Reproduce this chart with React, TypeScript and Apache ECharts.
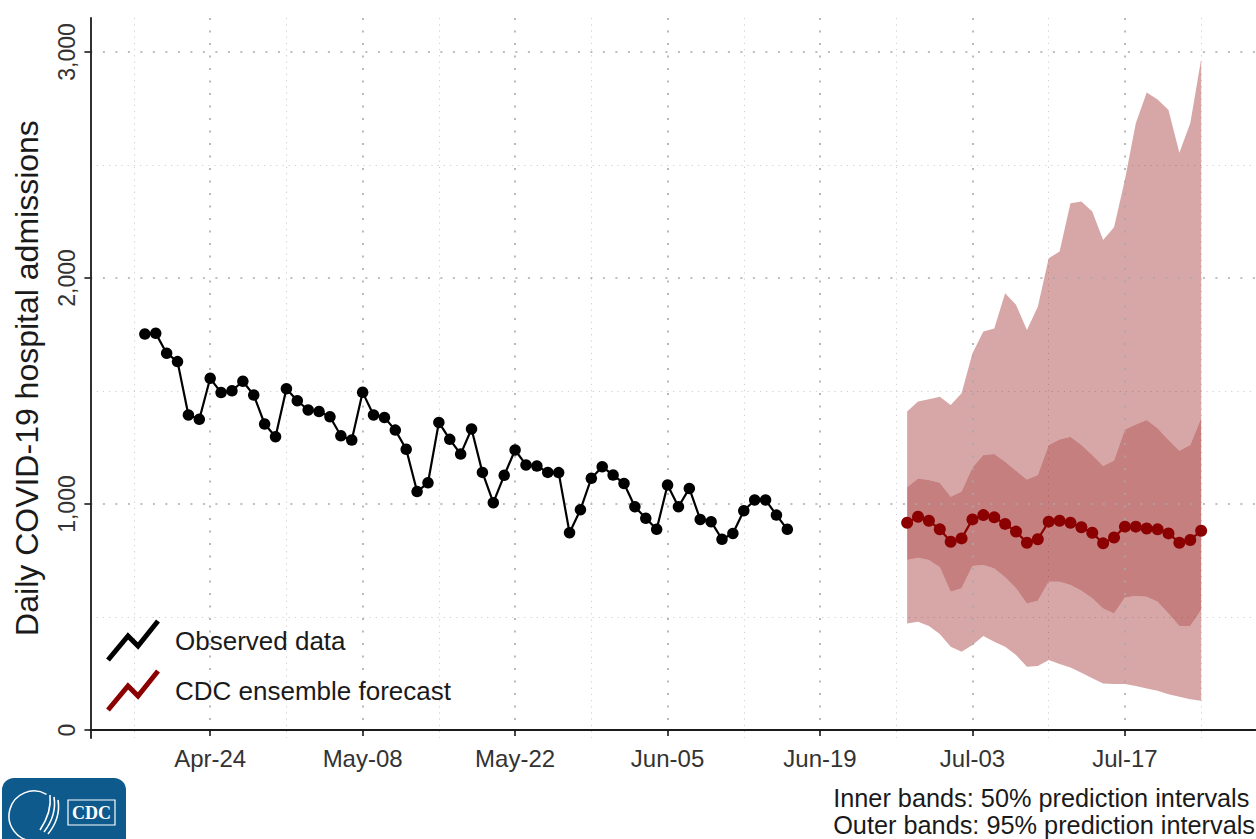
import React, { useEffect, useRef } from 'react';
import * as echarts from 'echarts';

// ---------- data ----------
const MONTHS = ['Jan', 'Feb', 'Mar', 'Apr', 'May', 'Jun', 'Jul', 'Aug', 'Sep', 'Oct', 'Nov', 'Dec'];
const AXIS_FIRST_DAY = Date.UTC(2022, 3, 13);
const AXIS_DAY_COUNT = 108;
const categories: string[] = Array.from({ length: AXIS_DAY_COUNT }, (_, i) => {
  const d = new Date(AXIS_FIRST_DAY + i * 86400000);
  return MONTHS[d.getUTCMonth()] + '-' + String(d.getUTCDate()).padStart(2, '0');
});

const tickLabels = ['Apr-24', 'May-08', 'May-22', 'Jun-05', 'Jun-19', 'Jul-03', 'Jul-17'];
const minorGridLabels = ['Apr-17', 'May-01', 'May-15', 'May-29', 'Jun-12', 'Jun-26', 'Jul-10', 'Jul-24'];
const yTickValues = [0, 1000, 2000, 3000];
const yMinorValues = [500, 1500, 2500];
const footnoteLines = ['Inner bands: 50% prediction intervals', 'Outer bands: 95% prediction intervals'];

const observedStart = 'Apr-18';
const observed = [
  1752, 1755, 1667, 1630, 1394, 1375, 1556, 1493, 1501, 1543,
  1482, 1354, 1298, 1510, 1457, 1416, 1409, 1386, 1302, 1283,
  1494, 1394, 1383, 1327, 1242, 1055, 1094, 1361, 1286, 1221,
  1332, 1140, 1006, 1127, 1239, 1173, 1168, 1140, 1139, 873,
  975, 1114, 1165, 1128, 1091, 988, 937, 888, 1084, 988,
  1069, 932, 922, 844, 870, 970, 1018, 1018, 951, 888,
];

const forecastStart = 'Jun-27';
const forecastMedian = [
  917, 944, 926, 888, 833, 848, 932, 951, 941, 912,
  878, 829, 844, 922, 926, 917, 897, 873, 826, 852,
  900, 900, 892, 888, 870, 829, 841, 882,
];
const upper50 = [
  1074, 1113, 1106, 1094, 1032, 1055, 1162, 1217, 1221, 1187,
  1147, 1109, 1128, 1261, 1286, 1298, 1261, 1217, 1168, 1192,
  1330, 1352, 1372, 1335, 1283, 1236, 1261, 1379,
];
const lower50 = [
  752, 762, 752, 720, 612, 627, 726, 730, 715, 676,
  627, 560, 572, 656, 656, 642, 616, 583, 538, 516,
  587, 593, 590, 568, 516, 460, 460, 531,
];
const lower95 = [
  472, 479, 460, 425, 369, 346, 376, 416, 391, 369,
  332, 280, 283, 310, 292, 277, 254, 229, 206, 204,
  204, 195, 184, 174, 159, 147, 136, 130,
];
const upper95 = [
  1409, 1453, 1463, 1475, 1438, 1490, 1667, 1763, 1777, 1932,
  1881, 1770, 1873, 2087, 2117, 2330, 2338, 2294, 2168, 2224,
  2434, 2684, 2820, 2790, 2743, 2554, 2684, 2968,
];

// ---------- helpers ----------
function place(values: number[], startLabel: string): (number | string)[] {
  const start = categories.indexOf(startLabel);
  return categories.map((_, i) => {
    const k = i - start;
    return k >= 0 && k < values.length ? values[k] : '-';
  });
}
function diff(a: number[], b: number[]): number[] {
  return a.map((v, i) => v - b[i]);
}

const FONT = "'Liberation Sans', Arial, Helvetica, sans-serif";
const DARKRED = '#8b0000';
const OUTER = 'rgba(139,0,0,0.35)';
const INNER = 'rgba(139,0,0,0.5)';
const MAJOR_GRID = { type: [2, 10.5] as any, color: '#a8a8a8', width: 1.6 };
const MINOR_GRID = { type: [1.2, 5] as any, color: '#cfcfcf', width: 1 };
const AXIS_COLOR = '#1a1a1a';

const isTick = (_i: number, v: string) => tickLabels.includes(v);
const isMinor = (_i: number, v: string) => minorGridLabels.includes(v);

export default function App() {
  const ref = useRef<HTMLDivElement>(null);

  useEffect(() => {
    if (!ref.current) return;
    const chart = echarts.init(ref.current, undefined, { renderer: 'svg' });

    const bandBase = {
      type: 'line',
      stack: 'bands',
      symbol: 'none',
      lineStyle: { width: 0, opacity: 0 },
      silent: true,
      z: 1,
    };

    const option: any = {
      animation: false,
      backgroundColor: '#ffffff',
      textStyle: { fontFamily: FONT },
      grid: { left: 90.4, right: 0.4, top: 18, bottom: 101 },
      xAxis: [
        {
          type: 'category',
          data: categories,
          boundaryGap: false,
          axisLine: { show: true, lineStyle: { color: AXIS_COLOR, width: 1.8 } },
          axisTick: { show: true, interval: isTick, length: 6, lineStyle: { color: AXIS_COLOR, width: 1.6 } },
          axisLabel: { interval: isTick, fontSize: 24, color: '#333333', margin: 8, fontFamily: FONT },
          splitLine: { show: true, interval: isTick, lineStyle: MAJOR_GRID },
          z: 3,
        },
        {
          type: 'category',
          data: categories,
          boundaryGap: false,
          axisLine: { show: false },
          axisTick: { show: false },
          axisLabel: { show: false },
          splitLine: { show: true, interval: isMinor, lineStyle: MINOR_GRID },
        },
      ],
      yAxis: [
        {
          type: 'value',
          min: -35,
          max: 3150,
          name: 'Daily COVID-19 hospital admissions',
          nameLocation: 'middle',
          nameGap: 47,
          nameRotate: 90,
          nameTextStyle: { fontSize: 32, color: '#1a1a1a', fontFamily: FONT },
          axisLine: { show: true, lineStyle: { color: AXIS_COLOR, width: 1.8 } },
          axisTick: { show: true, customValues: yTickValues, length: 6, lineStyle: { color: AXIS_COLOR, width: 1.6 } },
          axisLabel: {
            customValues: yTickValues,
            rotate: 90,
            fontSize: 23,
            color: '#333333',
            margin: 12,
            fontFamily: FONT,
            formatter: (v: number) => v.toLocaleString('en-US'),
          },
          splitLine: { show: true, lineStyle: MAJOR_GRID },
          z: 3,
        },
        {
          type: 'value',
          min: -35,
          max: 3150,
          axisLine: { show: false },
          axisTick: { show: false, customValues: yMinorValues },
          axisLabel: { show: false, customValues: yMinorValues },
          splitLine: { show: true, lineStyle: MINOR_GRID },
        },
      ],
      series: [
        { ...bandBase, name: 'base95', data: place(lower95, forecastStart) },
        {
          ...bandBase,
          name: 'outer-low',
          data: place(diff(lower50, lower95), forecastStart),
          areaStyle: { color: OUTER, opacity: 1 },
        },
        {
          ...bandBase,
          name: 'inner',
          data: place(diff(upper50, lower50), forecastStart),
          areaStyle: { color: INNER, opacity: 1 },
        },
        {
          ...bandBase,
          name: 'outer-high',
          data: place(diff(upper95, upper50), forecastStart),
          areaStyle: { color: OUTER, opacity: 1 },
        },
        {
          type: 'line',
          name: 'Observed data',
          data: place(observed, observedStart),
          symbol: 'circle',
          symbolSize: 11.5,
          showSymbol: true,
          showAllSymbol: true,
          itemStyle: { color: '#000000' },
          lineStyle: { color: '#000000', width: 2.2 },
          z: 5,
        },
        {
          type: 'line',
          name: 'CDC ensemble forecast',
          data: place(forecastMedian, forecastStart),
          symbol: 'circle',
          symbolSize: 12,
          showSymbol: true,
          showAllSymbol: true,
          itemStyle: { color: DARKRED },
          lineStyle: { color: DARKRED, width: 2.2 },
          z: 5,
        },
      ],
      graphic: [
        // legend
        {
          type: 'polyline',
          shape: { points: [[108, 660], [128, 636], [138, 646], [158, 621]] },
          style: { stroke: '#000000', lineWidth: 5, fill: null },
          z: 10,
        },
        {
          type: 'text',
          left: 175,
          top: 628,
          style: { text: 'Observed data', fontSize: 26, fill: '#1a1a1a', fontFamily: FONT },
          z: 10,
        },
        {
          type: 'polyline',
          shape: { points: [[108, 710], [128, 686], [138, 696], [158, 671]] },
          style: { stroke: DARKRED, lineWidth: 5, fill: null },
          z: 10,
        },
        {
          type: 'text',
          left: 175,
          top: 678,
          style: { text: 'CDC ensemble forecast', fontSize: 26, fill: '#1a1a1a', fontFamily: FONT },
          z: 10,
        },
        // footnote
        {
          type: 'text',
          right: 1,
          top: 784,
          style: {
            text: footnoteLines.join('\n'),
            fontSize: 25.3,
            lineHeight: 27,
            fill: '#1a1a1a',
            fontFamily: FONT,
            align: 'right',
          },
        },
        // CDC logo
        {
          type: 'group',
          children: [
            { type: 'rect', shape: { x: 2, y: 778, width: 124, height: 80, r: 12 }, style: { fill: '#0f5a8c' } },
            {
              type: 'arc',
              shape: { cx: 34, cy: 816, r: 25, startAngle: -Math.PI / 3, endAngle: Math.PI / 2, clockwise: false },
              style: { stroke: '#ffffff', lineWidth: 1.5, fill: null },
            },
            {
              type: 'bezierCurve',
              shape: { x1: 50, y1: 795, x2: 40, y2: 830, cpx1: 52, cpy1: 812 },
              style: { stroke: '#ffffff', lineWidth: 1.6, fill: null },
            },
            {
              type: 'bezierCurve',
              shape: { x1: 54, y1: 797, x2: 44, y2: 832, cpx1: 57, cpy1: 815 },
              style: { stroke: '#ffffff', lineWidth: 1.6, fill: null },
            },
            {
              type: 'bezierCurve',
              shape: { x1: 58, y1: 800, x2: 48, y2: 834, cpx1: 61, cpy1: 818 },
              style: { stroke: '#ffffff', lineWidth: 1.6, fill: null },
            },
            {
              type: 'rect',
              shape: { x: 68, y: 800, width: 47, height: 25 },
              style: { fill: '#0f5a8c', stroke: '#ffffff', lineWidth: 1.2 },
            },
            {
              type: 'text',
              x: 91.5,
              y: 813,
              style: {
                text: 'CDC',
                fontSize: 18,
                fontWeight: 'bold',
                fontFamily: "'Liberation Serif', 'DejaVu Serif', serif",
                fill: '#ffffff',
                align: 'center',
                verticalAlign: 'middle',
              },
            },
          ],
        },
      ],
    };

    chart.setOption(option);
    return () => chart.dispose();
  }, []);

  return (
    <div
      ref={ref}
      style={{ position: 'absolute', left: 0, top: 0, width: 1256, height: 839, background: '#ffffff' }}
    />
  );
}
